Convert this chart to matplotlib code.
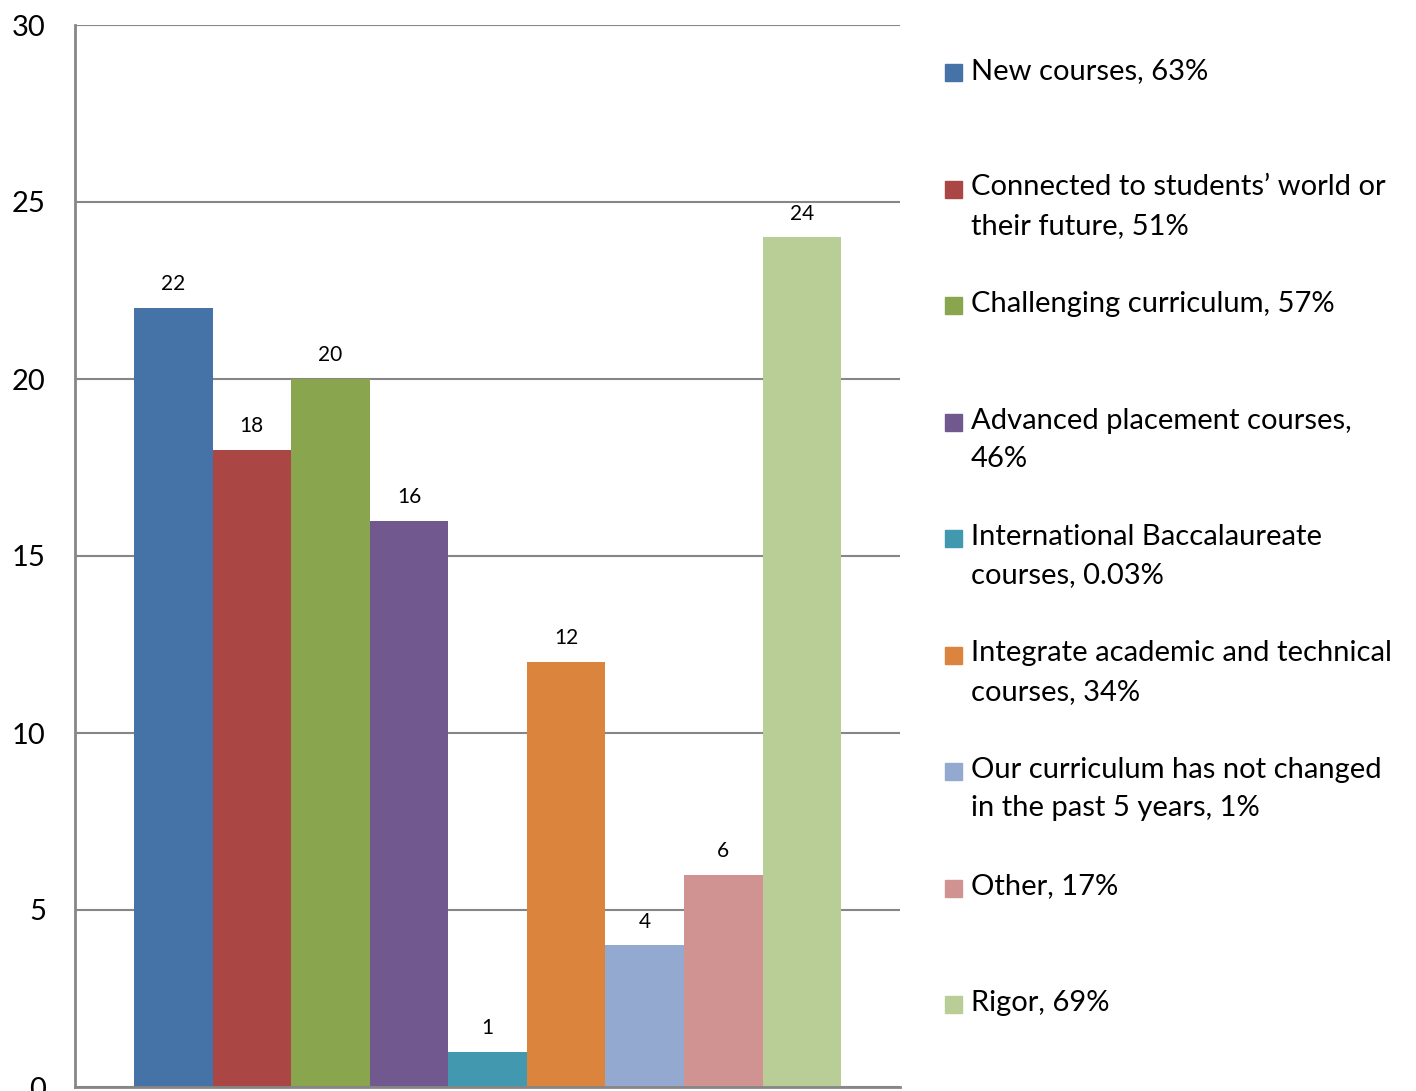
import matplotlib
matplotlib.use('Agg')
import matplotlib.pyplot as plt
from matplotlib.patches import Rectangle

plt.rcParams['font.family'] = ['Lato', 'DejaVu Sans']

# survey responses, one bar per category
labels = [
    'New courses, 63%',
    'Connected to students\u2019 world or\ntheir future, 51%',
    'Challenging curriculum, 57%',
    'Advanced placement courses,\n46%',
    'International Baccalaureate\ncourses, 0.03%',
    'Integrate academic and technical\ncourses, 34%',
    'Our curriculum has not changed\nin the past 5 years, 1%',
    'Other, 17%',
    'Rigor, 69%',
]
counts = [22, 18, 20, 16, 1, 12, 4, 6, 24]
colors = ['#4572A7', '#AA4643', '#89A54E', '#71588F', '#4198AF',
          '#DB843D', '#93A9CF', '#D19392', '#B9CD96']
yticks = [0, 5, 10, 15, 20, 25, 30]

W, H = 1416, 1091
fig = plt.figure(figsize=(W / 100, H / 100), dpi=100)
ax = fig.add_axes([75 / W, 4 / H, 825 / W, 1062 / H])

xs = list(range(len(counts)))
ax.bar(xs, counts, width=1.0, color=colors, zorder=2)
for x, c in zip(xs, counts):
    ax.annotate(str(c), (x, c), xytext=(0, 10), textcoords='offset points',
                ha='center', va='bottom', fontsize=15)

ax.set_xlim(-1.25, len(counts) - 1 + 1.25)
ax.set_ylim(0, 30)
ax.set_yticks(yticks)
ax.set_xticks([])
ax.yaxis.grid(True, color='#868686', linewidth=1.5, zorder=0)
ax.tick_params(axis='y', length=0, labelsize=21, pad=21)
for side in ('top', 'right'):
    ax.spines[side].set_visible(False)
for side in ('left', 'bottom'):
    ax.spines[side].set_color('#868686')
    ax.spines[side].set_linewidth(2)

# legend drawn by hand, one evenly spaced row per category
y0, step = 72, 116.5
for i, (lab, col) in enumerate(zip(labels, colors)):
    yc = y0 + i * step
    fig.add_artist(Rectangle((945 / W, 1 - (yc + 9) / H), 17 / W, 17 / H,
                             transform=fig.transFigure, color=col))
    fig.text(971 / W, 1 - (yc - 14) / H, lab, fontsize=21, va='top',
             ha='left', linespacing=1.58)

fig.savefig('out.png', dpi=100)
